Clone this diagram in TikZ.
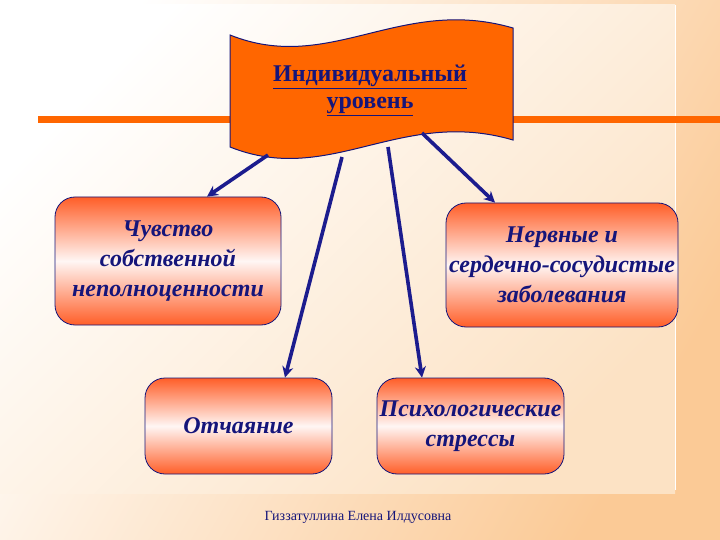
\documentclass[tikz,border=0pt]{standalone}
\usepackage{fontspec}
\setmainfont{Liberation Serif}
\usetikzlibrary{arrows.meta}
\definecolor{orng}{HTML}{FF6600}
\definecolor{navytxt}{HTML}{15157A}
\definecolor{arrowc}{HTML}{1C1C8E}
\definecolor{peach}{HTML}{FBCA96}
\definecolor{peachlt}{HTML}{FCE2C4}
\definecolor{boxor}{HTML}{FF5E28}
\definecolor{boxmid}{HTML}{FFF6F4}
\tikzset{
  x=1pt, y=-1pt,
  infobox/.style={draw=navytxt, line width=0.8pt, rounded corners=20pt,
    top color=boxor, bottom color=boxor, middle color=boxmid,
    align=center, text=navytxt, inner sep=1pt,
    font=\fontsize{24}{30}\selectfont\bfseries\itshape},
  conn/.style={draw=arrowc, line width=3.6pt, -{Stealth[length=11pt,width=11pt]}},
}
\begin{document}
\begin{tikzpicture}
\useasboundingbox (0,0) rectangle (720,540);
% background
\shade[left color=white, right color=peach, shading angle=60] (0,0) rectangle (720,540);
\shade[top color=white, bottom color=peachlt, shading angle=45] (0,5) rectangle (675,493);
\draw[white, line width=1pt] (675,5) -- (675,490);
% orange line
\draw[orng, line width=7pt] (38,120) -- (720,120);
% banner
\path[fill=orng, draw=navytxt, line width=1pt]
  (230,35) .. controls (330,75) and (400,-5) .. (513,28)
  -- (513,140) .. controls (400,107) and (330,187) .. (230,147) -- cycle;
\node[text=navytxt, align=center, font=\fontsize{24}{27}\selectfont\bfseries]
  (banner) at (370,90) {\underline{Индивидуальный}\\\underline{уровень}};
\coordinate (s1) at (268,155);
\coordinate (s2) at (342,157);
\coordinate (s3) at (388,147);
\coordinate (s4) at (422,133);
% boxes
\node[infobox, minimum width=226pt, minimum height=128pt] (A) at (168,261)
  {Чувство\\собственной\\неполноценности};
\node[infobox, minimum width=232pt, minimum height=124pt] (B) at (562,265)
  {Нервные и\\сердечно-сосудистые\\заболевания};
\node[infobox, minimum width=187pt, minimum height=96pt] (C) at (238.5,426)
  {Отчаяние};
\node[infobox, minimum width=187pt, minimum height=96pt] (D) at (470.5,426)
  {Психологические\\стрессы};
% arrows
\draw[conn] (s1) -- ([xshift=39pt]A.north);
\draw[conn] (s2) -- ([xshift=46.5pt]C.north);
\draw[conn] (s3) -- ([xshift=-48.5pt]D.north);
\draw[conn] (s4) -- ([xshift=-67pt]B.north);
% footer
\node[text=navytxt, font=\fontsize{14}{16}\selectfont] (foot) at (358,517)
  {Гиззатуллина Елена Илдусовна};
\end{tikzpicture}
\end{document}
